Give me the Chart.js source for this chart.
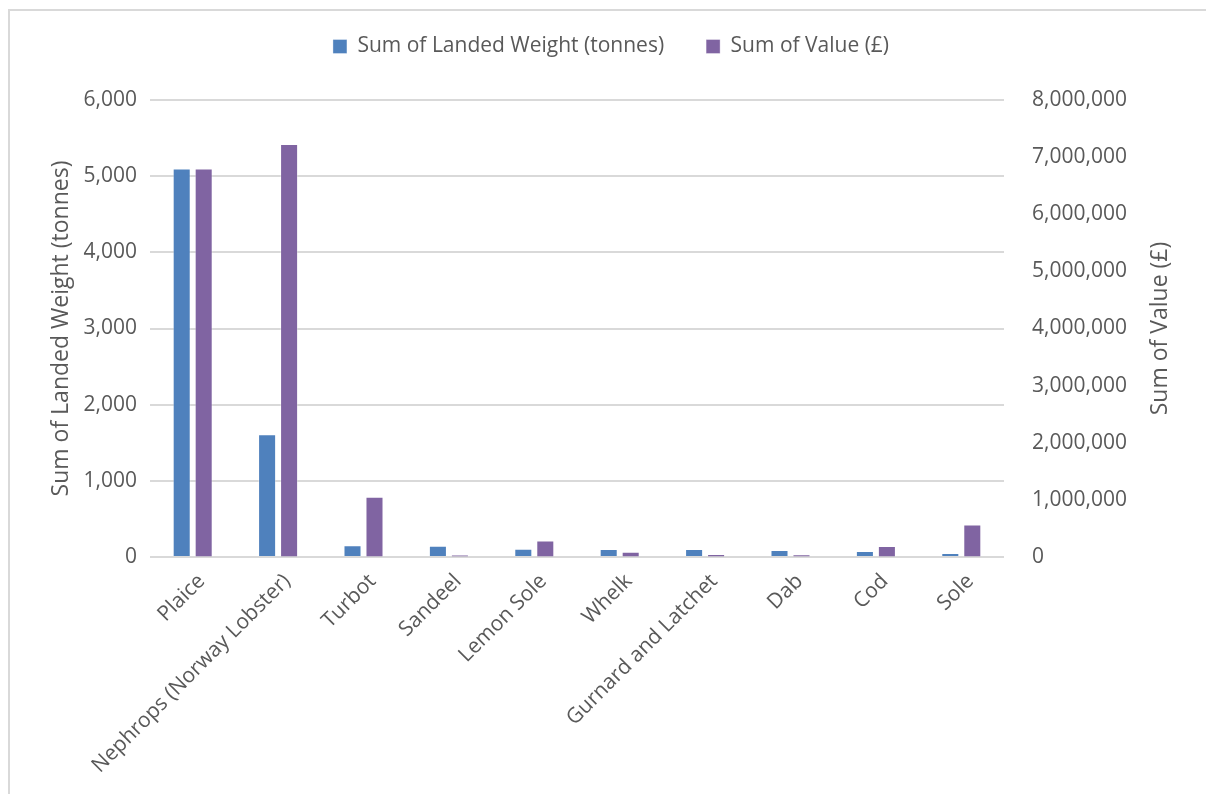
<!DOCTYPE html>
<html>
<head>
<meta charset="utf-8">
<script src="https://cdn.jsdelivr.net/npm/chart.js@4.4.1/dist/chart.umd.min.js"></script>
<style>
  html, body { margin: 0; padding: 0; background: #fff; overflow: hidden; }
  #frame { position: absolute; left: 8px; top: 9px; width: 1400px; height: 1000px; border: 2px solid #d9d9d9; }
  #chart { position: absolute; left: 0; top: 0; }
</style>
</head>
<body>
<div id="frame"></div>
<canvas id="chart" width="1206" height="794"></canvas>
<script>
const species = ['Plaice', 'Nephrops (Norway Lobster)', 'Turbot', 'Sandeel', 'Lemon Sole', 'Whelk', 'Gurnard and Latchet', 'Dab', 'Cod', 'Sole'];
const landedWeight = [5100, 1610, 153, 148, 109, 105, 105, 92, 79, 52];
const landedValue = [6800000, 7230000, 1055000, 40000, 290000, 93000, 52000, 50000, 192000, 571000];

const textGrey = '#595959';
const gridGrey = '#d9d9d9';
const fontFamily = '"Open Sans", sans-serif';

const fmt = v => Number(v).toLocaleString('en-US');

// right axis title reads bottom-to-top, like the left one
const rightTitle = {
    id: 'rightTitle',
    afterDraw(chart) {
        const { ctx, chartArea } = chart;
        ctx.save();
        ctx.translate(1160, (chartArea.top + chartArea.bottom) / 2);
        ctx.rotate(-Math.PI / 2);
        ctx.font = '23px ' + fontFamily;
        ctx.fillStyle = textGrey;
        ctx.textAlign = 'center';
        ctx.textBaseline = 'middle';
        ctx.fillText('Sum of Value (£)', 0, 0);
        ctx.restore();
    }
};

const ctx = document.getElementById('chart').getContext('2d');

new Chart(ctx, {
    type: 'bar',
    data: {
        labels: species,
        datasets: [{
            label: 'Sum of Landed Weight (tonnes)',
            data: landedWeight,
            backgroundColor: '#4f81bd',
            borderColor: 'rgba(255,255,255,0.35)',
            borderWidth: 1,
            yAxisID: 'y',
            categoryPercentage: 0.515,
            barPercentage: 0.82
        }, {
            label: 'Sum of Value (£)',
            data: landedValue,
            backgroundColor: '#8064a2',
            borderColor: 'rgba(255,255,255,0.35)',
            borderWidth: 1,
            yAxisID: 'y1',
            categoryPercentage: 0.515,
            barPercentage: 0.82
        }]
    },
    plugins: [rightTitle],
    options: {
        responsive: false,
        animation: false,
        layout: { padding: { top: -6, left: 16, right: 0, bottom: 0 } },
        plugins: {
            legend: {
                position: 'top',
                labels: {
                    boxWidth: 14,
                    boxHeight: 14,
                    padding: 42,
                    color: textGrey,
                    font: { family: fontFamily, size: 21 }
                }
            },
            // blank spacer between legend and plot
            subtitle: {
                display: true,
                text: ' ',
                weight: 500,
                font: { size: 10 },
                padding: { top: 0, bottom: 21 }
            },
            tooltip: { enabled: false }
        },
        scales: {
            x: {
                grid: { display: false },
                border: { display: false },
                ticks: {
                    color: textGrey,
                    font: { family: fontFamily, size: 21 },
                    minRotation: 45,
                    maxRotation: 45,
                    padding: 4,
                    labelOffset: 9
                },
                afterFit: s => { s.height = 237; }
            },
            y: {
                position: 'left',
                min: 0,
                max: 6000,
                grid: { color: gridGrey, lineWidth: 2, drawTicks: false },
                border: { display: false },
                ticks: {
                    stepSize: 1000,
                    color: textGrey,
                    font: { family: fontFamily, size: 21 },
                    padding: 13,
                    callback: fmt
                },
                title: {
                    display: true,
                    text: 'Sum of Landed Weight (tonnes)',
                    color: textGrey,
                    font: { family: fontFamily, size: 23 },
                    padding: { top: 32, bottom: 0 }
                },
                afterFit: s => { s.width = 134; }
            },
            y1: {
                position: 'right',
                min: 0,
                max: 8000000,
                grid: { drawOnChartArea: false, drawTicks: false },
                border: { display: false },
                ticks: {
                    stepSize: 1000000,
                    color: textGrey,
                    font: { family: fontFamily, size: 21 },
                    padding: 28,
                    callback: fmt
                },
                afterFit: s => { s.width = 202; }
            }
        }
    }
});
</script>
</body>
</html>
